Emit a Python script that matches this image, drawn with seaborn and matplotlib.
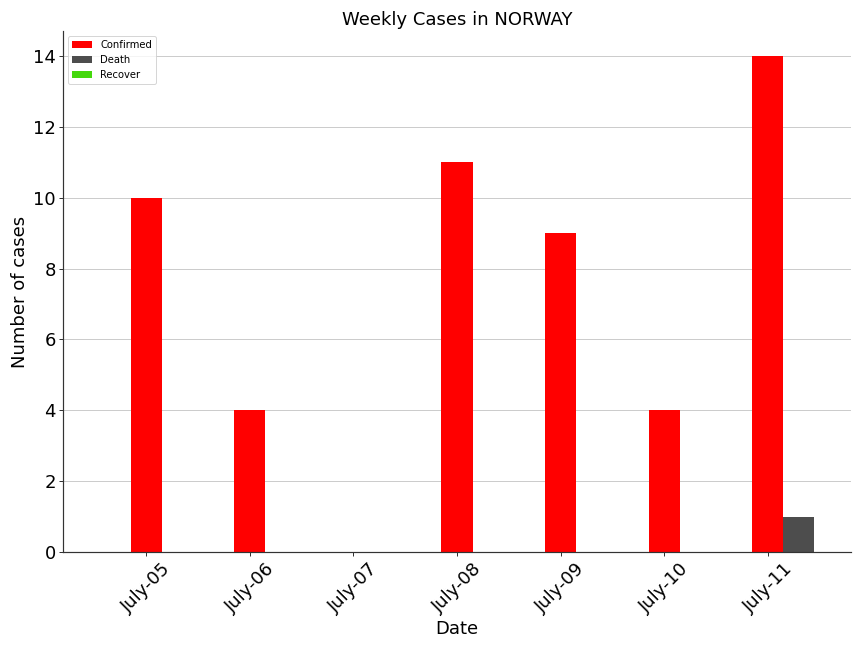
import numpy as np
import pandas as pd
import seaborn as sns
import matplotlib.pyplot as plt

dates = ['July-05', 'July-06', 'July-07', 'July-08', 'July-09', 'July-10', 'July-11']
confirmed = [10, 4, 0, 11, 9, 4, 14]
deaths = [0, 0, 0, 0, 0, 0, 1]
recovered = [0, 0, 0, 0, 0, 0, 0]

colors = ['#ff0000', '#4d4d4d', '#44d80c']

df = pd.DataFrame({
    'Date': dates * 3,
    'Cases': confirmed + deaths + recovered,
    'Type': ['Confirmed'] * 7 + ['Death'] * 7 + ['Recover'] * 7,
})

sns.set_style("whitegrid")
plt.rcParams['font.family'] = ['DejaVu Sans']
plt.rcParams['text.color'] = 'black'
plt.rcParams['axes.labelcolor'] = 'black'
plt.rcParams['xtick.color'] = 'black'
plt.rcParams['ytick.color'] = 'black'

fig, ax = plt.subplots(figsize=(12, 9), dpi=72)
fig.subplots_adjust(left=0.0733, right=0.9846, bottom=0.148, top=0.952)

sns.barplot(data=df, x='Date', y='Cases', hue='Type', palette=colors,
            width=0.9, saturation=1, linewidth=0, ax=ax)

# confirmed bar sits on the tick, the others go to the right
pos = np.arange(len(dates)) - 0.3
ax.set_xticks(pos)
ax.set_xticklabels(dates, rotation=45, fontsize=18)
ax.set_xlim(pos[0] - 0.8, pos[-1] + 0.8)
ax.set_ylim(0, 14.7)
ax.tick_params(axis='y', labelsize=18)
ax.tick_params(axis='both', which='major', length=4, width=1, color='#333333',
               labelcolor='black', bottom=True, left=True)
ax.xaxis.grid(False)
ax.yaxis.grid(True, color='#cccccc', linewidth=1)

for side in ['top', 'right']:
    ax.spines[side].set_visible(False)
for side in ['left', 'bottom']:
    ax.spines[side].set_color('#333333')
    ax.spines[side].set_linewidth(1.2)

ax.set_title('Weekly Cases in NORWAY', fontsize=18, color='black')
ax.set_xlabel('Date', fontsize=18, color='black')
ax.set_ylabel('Number of cases', fontsize=18, color='black')
leg = ax.legend(loc='upper left', fontsize=10, title=None)
for t in leg.get_texts():
    t.set_color('black')

plt.savefig('out.png', dpi=72)
